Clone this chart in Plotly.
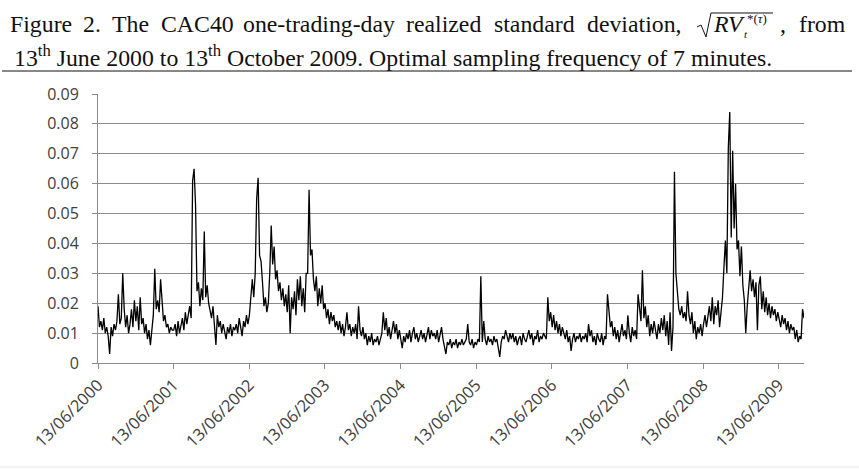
import pandas as pd
import plotly.graph_objects as go

# ---- data (weekly readings of the realized std) ----
y2000 = [0.019, 0.012, 0.014, 0.011, 0.015, 0.010, 0.012, 0.009, 0.003, 0.012,
         0.009, 0.013, 0.011, 0.014, 0.023, 0.013, 0.015, 0.030, 0.018, 0.012,
         0.016, 0.010, 0.013, 0.018, 0.012, 0.021, 0.014, 0.019, 0.011, 0.022,
         0.013, 0.015, 0.010, 0.013, 0.008, 0.011, 0.006, 0.012, 0.016, 0.0315,
         0.018, 0.021, 0.017, 0.028, 0.019, 0.014, 0.016, 0.012, 0.013, 0.010,
         0.012, 0.011]
y2001 = [0.011, 0.013, 0.009, 0.014, 0.010, 0.012, 0.015, 0.011, 0.017, 0.013,
         0.016, 0.019, 0.015, 0.061, 0.065, 0.053, 0.024, 0.027, 0.019, 0.025,
         0.021, 0.044, 0.022, 0.026, 0.020, 0.017, 0.015, 0.019, 0.013, 0.006,
         0.016, 0.012, 0.014, 0.010, 0.013, 0.011, 0.008, 0.012, 0.010, 0.013,
         0.009, 0.012, 0.011, 0.013, 0.010, 0.015, 0.012, 0.009, 0.014, 0.012,
         0.016, 0.013]
y2002 = [0.016, 0.024, 0.028, 0.022, 0.030, 0.055, 0.062, 0.036, 0.034, 0.027,
         0.019, 0.022, 0.017, 0.020, 0.030, 0.046, 0.033, 0.039, 0.028, 0.031,
         0.024, 0.027, 0.021, 0.025, 0.019, 0.023, 0.017, 0.026, 0.010, 0.022,
         0.018, 0.024, 0.016, 0.028, 0.021, 0.029, 0.019, 0.025, 0.017, 0.030,
         0.030, 0.058, 0.036, 0.038, 0.028, 0.024, 0.029, 0.019, 0.025, 0.020,
         0.026, 0.018]
y2003 = [0.020, 0.015, 0.018, 0.013, 0.017, 0.014, 0.016, 0.012, 0.014, 0.011,
         0.014, 0.010, 0.013, 0.009, 0.012, 0.017, 0.011, 0.013, 0.009, 0.012,
         0.010, 0.013, 0.008, 0.019, 0.011, 0.009, 0.012, 0.008, 0.010, 0.006,
         0.009, 0.007, 0.010, 0.006, 0.008, 0.007, 0.009, 0.006, 0.008, 0.010,
         0.017, 0.011, 0.015, 0.009, 0.012, 0.008, 0.011, 0.014, 0.010, 0.013,
         0.008, 0.011]
y2004 = [0.008, 0.005, 0.009, 0.007, 0.010, 0.008, 0.011, 0.007, 0.010, 0.012,
         0.008, 0.010, 0.007, 0.009, 0.011, 0.008, 0.010, 0.007, 0.010, 0.012,
         0.008, 0.011, 0.009, 0.010, 0.008, 0.011, 0.007, 0.010, 0.012, 0.008,
         0.005, 0.003, 0.007, 0.006, 0.008, 0.005, 0.007, 0.006, 0.008, 0.005,
         0.007, 0.006, 0.008, 0.006, 0.007, 0.008, 0.013, 0.007, 0.006, 0.008,
         0.005, 0.007]
y2005 = [0.006, 0.008, 0.007, 0.029, 0.007, 0.014, 0.008, 0.006, 0.009, 0.007,
         0.008, 0.006, 0.009, 0.007, 0.008, 0.005, 0.002, 0.007, 0.009, 0.008,
         0.011, 0.009, 0.007, 0.010, 0.008, 0.010, 0.007, 0.009, 0.006, 0.008,
         0.009, 0.006, 0.010, 0.008, 0.007, 0.009, 0.011, 0.008, 0.010, 0.006,
         0.009, 0.008, 0.011, 0.007, 0.009, 0.008, 0.010, 0.009, 0.008, 0.022,
         0.014, 0.017]
y2006 = [0.012, 0.016, 0.011, 0.014, 0.010, 0.013, 0.009, 0.012, 0.010, 0.008,
         0.011, 0.007, 0.009, 0.004, 0.008, 0.010, 0.007, 0.009, 0.008, 0.010,
         0.007, 0.009, 0.008, 0.010, 0.007, 0.013, 0.009, 0.011, 0.007, 0.009,
         0.006, 0.010, 0.008, 0.007, 0.010, 0.006, 0.009, 0.008, 0.023, 0.016,
         0.012, 0.014, 0.009, 0.012, 0.008, 0.011, 0.007, 0.010, 0.013, 0.009,
         0.011, 0.008]
y2007 = [0.016, 0.010, 0.007, 0.012, 0.009, 0.011, 0.008, 0.023, 0.019, 0.014,
         0.031, 0.015, 0.019, 0.012, 0.016, 0.009, 0.013, 0.010, 0.014, 0.011,
         0.008, 0.013, 0.010, 0.015, 0.011, 0.016, 0.009, 0.014, 0.006, 0.017,
         0.004, 0.012, 0.064, 0.030, 0.022, 0.018, 0.016, 0.019, 0.015, 0.017,
         0.014, 0.024, 0.016, 0.013, 0.017, 0.010, 0.014, 0.008, 0.012, 0.010,
         0.013, 0.009]
y2008 = [0.013, 0.016, 0.012, 0.015, 0.019, 0.014, 0.022, 0.013, 0.019, 0.016,
         0.021, 0.012, 0.017, 0.022, 0.032, 0.041, 0.030, 0.072, 0.084, 0.042,
         0.071, 0.045, 0.060, 0.038, 0.041, 0.029, 0.039, 0.026, 0.021, 0.010,
         0.019, 0.026, 0.031, 0.024, 0.028, 0.022, 0.027, 0.011, 0.026, 0.029,
         0.018, 0.024, 0.017, 0.022, 0.016, 0.020, 0.015, 0.019, 0.016, 0.018,
         0.014, 0.017]
y2009 = [0.015, 0.012, 0.016, 0.013, 0.015, 0.011, 0.014, 0.010, 0.013, 0.011,
         0.012, 0.008, 0.011, 0.007, 0.009, 0.008, 0.018, 0.015]

start_date = "2000-06-13"
end_date = "2009-10-13"
x_tick_labels = ["13/06/2000", "13/06/2001", "13/06/2002", "13/06/2003", "13/06/2004",
                 "13/06/2005", "13/06/2006", "13/06/2007", "13/06/2008", "13/06/2009"]
y_tick_values = [0, 0.01, 0.02, 0.03, 0.04, 0.05, 0.06, 0.07, 0.08, 0.09]
y_tick_labels = ["0", "0.01", "0.02", "0.03", "0.04", "0.05", "0.06", "0.07", "0.08", "0.09"]

values = y2000 + y2001 + y2002 + y2003 + y2004 + y2005 + y2006 + y2007 + y2008 + y2009
dates = pd.date_range(start_date, end_date, periods=len(values))
x_tick_values = pd.to_datetime(x_tick_labels, format="%d/%m/%Y")

# ---- geometry ----
W, H = 859, 470
PL, PR, PT, PB = 98, 804, 94, 363


def px(x):
    return (x - PL) / (PR - PL)


def py(y):
    return (PB - y) / (PB - PT)


GRID = "#8c8c8c"
fig = go.Figure()
fig.add_trace(go.Scatter(x=dates, y=values, mode="lines",
                         line=dict(color="#000000", width=1.3),
                         hoverinfo="skip", showlegend=False))

fig.update_layout(
    width=W, height=H,
    margin=dict(l=PL, r=W - PR, t=PT, b=H - PB, pad=0),
    paper_bgcolor="white", plot_bgcolor="white",
    font=dict(family="Open Sans", size=16, color="#404040"),
    showlegend=False,
)
fig.update_xaxes(
    type="date", range=[start_date, end_date],
    tickvals=x_tick_values, ticktext=x_tick_labels, tickangle=-45,
    showgrid=False, zeroline=False, showline=True, linecolor=GRID, linewidth=1,
    ticks="outside", ticklen=5, tickcolor=GRID, tickwidth=1,
    tickfont=dict(family="Open Sans", size=16.5, color="#404040"),
)
fig.update_yaxes(
    range=[0, 0.09], tickvals=y_tick_values, ticktext=y_tick_labels,
    showgrid=True, gridcolor=GRID, gridwidth=1, zeroline=False,
    showline=True, linecolor=GRID, linewidth=1,
    ticks="outside", ticklen=5, tickcolor=GRID, tickwidth=1,
    ticklabelstandoff=10,
    tickfont=dict(family="Open Sans", size=16, color="#404040"),
)

# ---- caption (justified first line: word by word) ----
SERIF = "Liberation Serif"
CAP = 23.8
INK = "#111111"
ann = []
line1 = [("Figure", 8), ("2.", 81), ("The", 110), ("CAC40", 159),
         ("one-trading-day", 241), ("realized", 404), ("standard", 492),
         ("deviation,", 585), (",", 778), ("from", 797)]
for word, xx in line1:
    ann.append(dict(text=word, x=px(xx), y=py(24), xref="paper", yref="paper",
                    xanchor="left", yanchor="middle", showarrow=False,
                    font=dict(family=SERIF, size=CAP, color=INK)))
ann.append(dict(text="<i>RV</i>", x=px(711), y=py(24), xref="paper", yref="paper",
                xanchor="left", yanchor="middle", showarrow=False,
                font=dict(family=SERIF, size=CAP, color=INK)))
ann.append(dict(text="<i>t</i>", x=px(742), y=py(34), xref="paper", yref="paper",
                xanchor="left", yanchor="middle", showarrow=False,
                font=dict(family=SERIF, size=11, color=INK)))
ann.append(dict(text="*(<i>τ</i>)", x=px(745), y=py(18), xref="paper", yref="paper",
                xanchor="left", yanchor="middle", showarrow=False,
                font=dict(family=SERIF, size=13, color=INK)))
ann.append(dict(text="13<sup>th</sup> June 2000 to 13<sup>th</sup> October 2009. "
                     "Optimal sampling frequency of 7 minutes.",
                x=px(12), y=py(56), xref="paper", yref="paper",
                xanchor="left", yanchor="middle", showarrow=False,
                font=dict(family=SERIF, size=CAP, color=INK)))
fig.update_layout(annotations=ann)

# radical sign, rule under the caption, faint bottom rule
rad = [(697, 27), (701, 25), (706, 37), (711, 13), (773, 13)]
path = "M " + " L ".join(f"{px(a):.5f},{py(b):.5f}" for a, b in rad)
fig.add_shape(type="path", path=path, xref="paper", yref="paper",
              line=dict(color=INK, width=1))
fig.add_shape(type="line", x0=px(2), x1=px(852), y0=py(71), y1=py(71),
              xref="paper", yref="paper", line=dict(color=INK, width=1))
fig.add_shape(type="line", x0=px(0), x1=px(859), y0=py(467), y1=py(467),
              xref="paper", yref="paper", line=dict(color="#e6e6e6", width=1))

fig.write_html("out.html")
